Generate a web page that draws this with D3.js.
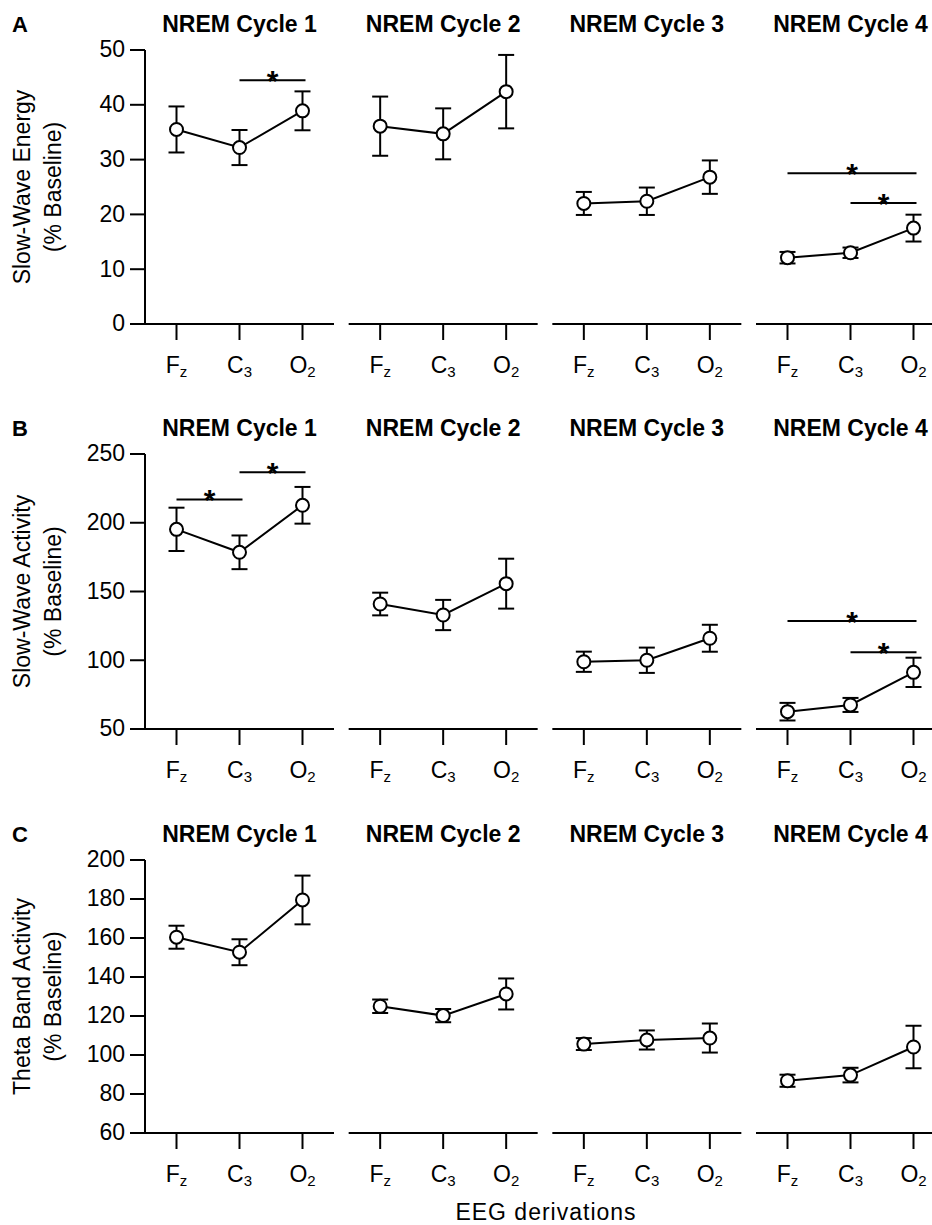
<!DOCTYPE html>
<html lang="en">
  <head>
    <meta charset="utf-8">
    <title>EEG power across NREM cycles</title>
    <style>
      body { margin: 0; background: #fff; }
      svg { display: block; font-family: "Liberation Sans", Arial, sans-serif; }
    </style>
  </head>
  <body>
    <svg width="932" height="1225"></svg>
    <script src="https://d3js.org/d3.v7.min.js"></script>
    <script>
      // derivations: main letter + subscript
      var leads = ["Fz", "C3", "O2"];
      var leadMain = ["F", "C", "O"];
      var leadSub = ["z", "3", "2"];
      var cycles = ["NREM Cycle 1", "NREM Cycle 2", "NREM Cycle 3", "NREM Cycle 4"];

      // A - slow-wave energy (% baseline), one row per cycle, columns Fz C3 O2
      var sweMean = [[35.5, 32.2, 38.9], [36.1, 34.7, 42.4], [22.0, 22.4, 26.8], [12.1, 13.0, 17.5]];
      var sweSem  = [[4.2, 3.2, 3.55], [5.4, 4.65, 6.7], [2.1, 2.5, 3.05], [1.05, 0.95, 2.45]];
      var sweTicks = [0, 10, 20, 30, 40, 50];
      // significance bars: [cycle, from lead, to lead, height]
      var sweSig = [[0, 1, 2, 44.5], [3, 0, 2, 27.5], [3, 1, 2, 22.1]];

      // B - slow-wave activity (% baseline)
      var swaMean = [[195.2, 178.5, 212.7], [140.9, 132.9, 155.7], [98.9, 100.0, 116.0], [62.6, 67.5, 91.2]];
      var swaSem  = [[15.75, 12.25, 13.35], [8.25, 11.0, 18.15], [7.35, 9.2, 9.8], [6.4, 5.1, 10.65]];
      var swaTicks = [50, 100, 150, 200, 250];
      var swaSig = [[0, 0, 1, 217], [0, 1, 2, 236.7], [3, 0, 2, 128.5], [3, 1, 2, 105.8]];

      // C - theta band activity (% baseline)
      var thetaMean = [[160.4, 152.7, 179.5], [125.0, 120.2, 131.3], [105.6, 107.7, 108.7], [86.8, 89.7, 104.1]];
      var thetaSem  = [[5.9, 6.65, 12.5], [3.45, 3.4, 7.95], [3.05, 4.9, 7.45], [3.1, 3.75, 10.9]];
      var thetaTicks = [60, 80, 100, 120, 140, 160, 180, 200];
      var thetaSig = [];

      var rows = [
        { letter: "A", label: ["Slow-Wave Energy", "(% Baseline)"], ticks: sweTicks, mean: sweMean, sem: sweSem, sig: sweSig },
        { letter: "B", label: ["Slow-Wave Activity", "(% Baseline)"], ticks: swaTicks, mean: swaMean, sem: swaSem, sig: swaSig },
        { letter: "C", label: ["Theta Band Activity", "(% Baseline)"], ticks: thetaTicks, mean: thetaMean, sem: thetaSem, sig: thetaSig }
      ];

      var svg = d3.select("svg");
      var rowTop = [50, 454, 860];
      var rowBottom = [324, 729, 1133];
      var panelLeft = d3.scaleLinear().domain([0, 3]).range([145, 756]);
      var panelWidth = 189;

      rows.forEach(function(row, r) {
        var y = d3.scaleLinear()
          .domain([row.ticks[0], row.ticks[row.ticks.length - 1]])
          .range([rowBottom[r], rowTop[r]]);
        var g = svg.append("g");

        g.append("text")
          .attr("x", 12)
          .attr("y", rowTop[r] - 18)
          .attr("font-size", 22)
          .attr("font-weight", "bold")
          .text(row.letter);

        var lab = g.append("text")
          .attr("transform", "translate(30," + (rowTop[r] + rowBottom[r]) / 2 + ") rotate(-90)")
          .attr("text-anchor", "middle")
          .attr("font-size", 23);
        lab.append("tspan").attr("x", 0).attr("y", 0).text(row.label[0]);
        lab.append("tspan").attr("x", 0).attr("y", 31).text(row.label[1]);

        var yAxis = g.append("g")
          .attr("transform", "translate(145,0)")
          .call(d3.axisLeft(y).tickValues(row.ticks).tickSize(15).tickSizeOuter(0).tickPadding(5).offset(0));
        yAxis.attr("font-size", 23).attr("font-family", null);
        yAxis.selectAll("path, line").attr("stroke-width", 2);

        cycles.forEach(function(name, c) {
          var L = panelLeft(c);
          var x = d3.scalePoint().domain(leads).range([L, L + panelWidth]).padding(0.5);

          g.append("text")
            .attr("x", L + panelWidth / 2)
            .attr("y", rowTop[r] - 18)
            .attr("text-anchor", "middle")
            .attr("font-size", 23)
            .attr("font-weight", "bold")
            .text(name);

          var xAxis = g.append("g")
            .attr("transform", "translate(0," + rowBottom[r] + ")")
            .call(d3.axisBottom(x).tickSize(16).tickSizeOuter(0).offset(0));
          xAxis.attr("font-size", 23).attr("font-family", null);
          xAxis.selectAll("path, line").attr("stroke-width", 2);
          xAxis.selectAll(".tick text").each(function(d, i) {
            var t = d3.select(this).text(null).attr("y", 49).attr("dy", null);
            t.append("tspan").text(leadMain[i]);
            t.append("tspan").attr("font-size", 15).attr("dy", 4).text(leadSub[i]);
          });

          var pts = leads.map(function(l, j) {
            return { lead: l, m: row.mean[c][j], s: row.sem[c][j] };
          });

          g.append("path")
            .datum(pts)
            .attr("fill", "none")
            .attr("stroke", "#000")
            .attr("stroke-width", 2)
            .attr("d", d3.line().x(d => x(d.lead)).y(d => y(d.m)));

          var eb = g.append("g").selectAll("g").data(pts).enter().append("g")
            .attr("stroke", "#000")
            .attr("stroke-width", 2);
          eb.append("line")
            .attr("x1", d => x(d.lead)).attr("x2", d => x(d.lead))
            .attr("y1", d => y(d.m - d.s)).attr("y2", d => y(d.m + d.s));
          eb.append("line")
            .attr("x1", d => x(d.lead) - 8).attr("x2", d => x(d.lead) + 8)
            .attr("y1", d => y(d.m + d.s)).attr("y2", d => y(d.m + d.s));
          eb.append("line")
            .attr("x1", d => x(d.lead) - 8).attr("x2", d => x(d.lead) + 8)
            .attr("y1", d => y(d.m - d.s)).attr("y2", d => y(d.m - d.s));
          eb.append("circle")
            .attr("cx", d => x(d.lead))
            .attr("cy", d => y(d.m))
            .attr("r", 6.5)
            .attr("fill", "#fff");

          row.sig.filter(s => s[0] === c).forEach(function(s) {
            var x1 = x(leads[s[1]]), x2 = x(leads[s[2]]) + 3;
            g.append("line")
              .attr("x1", x1).attr("x2", x2)
              .attr("y1", y(s[3])).attr("y2", y(s[3]))
              .attr("stroke", "#000")
              .attr("stroke-width", 2);
            g.append("text")
              .attr("x", (x1 + x2) / 2)
              .attr("y", y(s[3]) + 11)
              .attr("text-anchor", "middle")
              .attr("font-size", 30)
              .attr("font-weight", "bold")
              .text("*");
          });
        });
      });

      svg.append("text")
        .attr("x", 546)
        .attr("y", 1220)
        .attr("text-anchor", "middle")
        .attr("font-size", 23)
        .attr("letter-spacing", 1)
        .text("EEG derivations");
    </script>
  </body>
</html>
